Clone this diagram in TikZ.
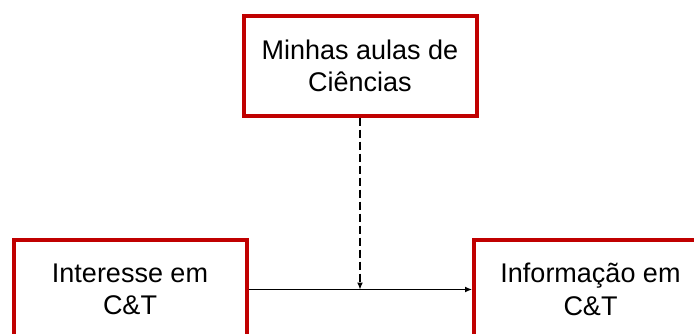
\documentclass[tikz,border=0pt]{standalone}
\usepackage{fontspec}
\setmainfont{Liberation Sans}
\usetikzlibrary{arrows.meta}
\definecolor{boxred}{RGB}{192,0,0}
\tikzset{
  redbox/.style={draw=boxred, line width=4pt, fill=white, minimum width=233pt, minimum height=99pt, inner sep=0pt, align=center, font=\fontsize{27}{32.5}\selectfont},
  conn/.style={line width=1.2pt, -{Latex[length=7pt,width=6pt]}},
}
\begin{document}
\begin{tikzpicture}[x=1pt,y=1pt]
\useasboundingbox (0,0) rectangle (694,333);
\clip (0,0) rectangle (694,333);
\node[redbox] (top) at (360,267) {Minhas aulas de\\Ciências};
\node[redbox] (left) at (130,43.5) {Interesse em\\C\&T};
\node[redbox] (right) at (590.5,43.5) {Informação em\\C\&T};
\coordinate (meet) at (top.south |- left.east);
\draw[conn] (left.east) -- (right.west);
\draw[conn, dash pattern=on 8pt off 4pt] (top.south) -- (meet);
\end{tikzpicture}
\end{document}
